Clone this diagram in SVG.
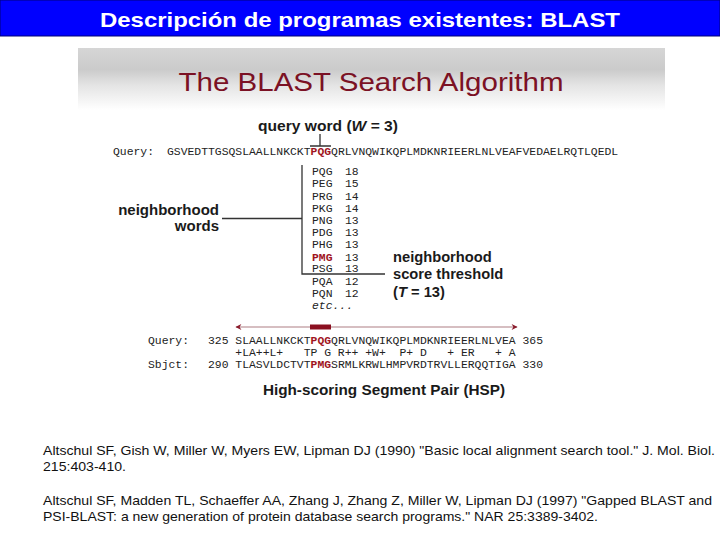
<svg xmlns="http://www.w3.org/2000/svg" width="720" height="540" viewBox="0 0 720 540">
<defs>
<linearGradient id="band" x1="0" y1="0" x2="0" y2="1">
<stop offset="0" stop-color="#d6d6d6"/>
<stop offset="0.35" stop-color="#cbcbcb"/>
<stop offset="0.6" stop-color="#e4e4e4"/>
<stop offset="1" stop-color="#ffffff"/>
</linearGradient>
<marker id="ah" viewBox="0 0 10 10" refX="9" refY="5" markerWidth="9" markerHeight="6" orient="auto-start-reverse" markerUnits="userSpaceOnUse">
<path d="M0,0 L10,5 L0,10 L3,5 Z" fill="#8a1a2a"/>
</marker>
<style>
.mono{font-family:"Liberation Mono","Courier New",monospace;font-size:11.4px;fill:#222}
.red{fill:#a0141e;font-weight:bold}
.lbl{font-family:"Liberation Sans",Arial,sans-serif;font-weight:bold;fill:#1a1a1a}
.ref{font-family:"Liberation Sans",Arial,sans-serif;font-size:13.5px;fill:#111}
.ln{stroke:#333;stroke-width:1.3;fill:none}
</style>
</defs>
<rect width="720" height="540" fill="#ffffff"/>
<g id="header">
<rect x="0" y="0" width="720" height="36" fill="#0000ff" stroke="#00007a" stroke-width="1"/>
<text x="360" y="27" text-anchor="middle" font-family="Liberation Sans,Arial,sans-serif" font-weight="bold" font-size="21" fill="#ffffff" textLength="520" lengthAdjust="spacingAndGlyphs">Descripción de programas existentes: BLAST</text>
</g>
<g id="figure-panel">
<rect x="78" y="48" width="587" height="62" fill="url(#band)"/>
<text x="371" y="91" text-anchor="middle" font-family="Liberation Sans,Arial,sans-serif" font-size="26" fill="#7b1124" textLength="385" lengthAdjust="spacingAndGlyphs">The BLAST Search Algorithm</text>
</g>
<g id="query-word">
<text class="lbl" x="258" y="131" font-size="15" textLength="140" lengthAdjust="spacingAndGlyphs">query word (<tspan font-style="italic">W</tspan> = 3)</text>
</g>
<g id="query-line">
<text class="mono" x="113" y="155">Query:</text>
<text class="mono" x="167" y="155">GSVEDTTGSQSLAALLNKCKT<tspan class="red">PQG</tspan>QRLVNQWIKQPLMDKNRIEERLNLVEAFVEDAELRQTLQEDL</text>
</g>
<g id="neighborhood-list" class="mono">
<text class="mono" x="312" y="175">PQG</text><text class="mono" x="345" y="175">18</text>
<text class="mono" x="312" y="187">PEG</text><text class="mono" x="345" y="187">15</text>
<text class="mono" x="312" y="199.5">PRG</text><text class="mono" x="345" y="199.5">14</text>
<text class="mono" x="312" y="211.5">PKG</text><text class="mono" x="345" y="211.5">14</text>
<text class="mono" x="312" y="224">PNG</text><text class="mono" x="345" y="224">13</text>
<text class="mono" x="312" y="236">PDG</text><text class="mono" x="345" y="236">13</text>
<text class="mono" x="312" y="248">PHG</text><text class="mono" x="345" y="248">13</text>
<text class="mono red" x="312" y="260.5">PMG</text><text class="mono" x="345" y="260.5">13</text>
<text class="mono" x="312" y="272">PSG</text><text class="mono" x="345" y="272">13</text>
<text class="mono" x="312" y="284.5">PQA</text><text class="mono" x="345" y="284.5">12</text>
<text class="mono" x="312" y="297">PQN</text><text class="mono" x="345" y="297">12</text>
<text class="mono" x="312" y="309" font-style="italic" font-size="9">etc...</text>
</g>
<g id="neighborhood-words">
<text class="lbl" x="219" y="215" font-size="15" text-anchor="end">neighborhood</text>
<text class="lbl" x="219" y="231" font-size="15" text-anchor="end">words</text>
</g>
<g id="score-threshold">
<text class="lbl" x="393" y="262" font-size="14.7">neighborhood</text>
<text class="lbl" x="393" y="279" font-size="14.7">score threshold</text>
<text class="lbl" x="393" y="297" font-size="14.7">(<tspan font-style="italic">T</tspan> = 13)</text>
</g>
<g id="connectors">
<path class="ln" d="M320,134 V146 M310,146 H331"/>
<path class="ln" d="M302,165 V274 H385"/>
<path class="ln" d="M222,218.5 H302"/>
<line x1="236" y1="327" x2="517" y2="327" stroke="#c9a9ad" stroke-width="1.6" marker-start="url(#ah)" marker-end="url(#ah)"/>
</g>
<g id="hsp">
<rect x="310" y="324.5" width="21" height="5" fill="#8b1020"/>
<text class="mono" x="148" y="344">Query:</text>
<text class="mono" x="208" y="344" xml:space="preserve">325 SLAALLNKCKT<tspan class="red">PQG</tspan>QRLVNQWIKQPLMDKNRIEERLNLVEA 365</text>
<text class="mono" x="208" y="356" xml:space="preserve">    +LA++L+   TP G R++ +W+  P+ D   + ER   + A</text>
<text class="mono" x="148" y="368">Sbjct:</text>
<text class="mono" x="208" y="368" xml:space="preserve">290 TLASVLDCTVT<tspan class="red">PMG</tspan>SRMLKRWLHMPVRDTRVLLERQQTIGA 330</text>
<text class="lbl" x="384" y="395" font-size="15.3" text-anchor="middle">High-scoring Segment Pair (HSP)</text>
</g>
<g id="references">
<text class="ref" x="43" y="455" textLength="672" lengthAdjust="spacingAndGlyphs">Altschul SF, Gish W, Miller W, Myers EW, Lipman DJ (1990) "Basic local alignment search tool." J. Mol. Biol.</text>
<text class="ref" x="43" y="471" textLength="83" lengthAdjust="spacingAndGlyphs">215:403-410.</text>
<text class="ref" x="43" y="505" textLength="669" lengthAdjust="spacingAndGlyphs">Altschul SF, Madden TL, Schaeffer AA, Zhang J, Zhang Z, Miller W, Lipman DJ (1997) "Gapped BLAST and</text>
<text class="ref" x="43" y="521" textLength="555" lengthAdjust="spacingAndGlyphs">PSI-BLAST: a new generation of protein database search programs." NAR 25:3389-3402.</text>
</g>
</svg>
